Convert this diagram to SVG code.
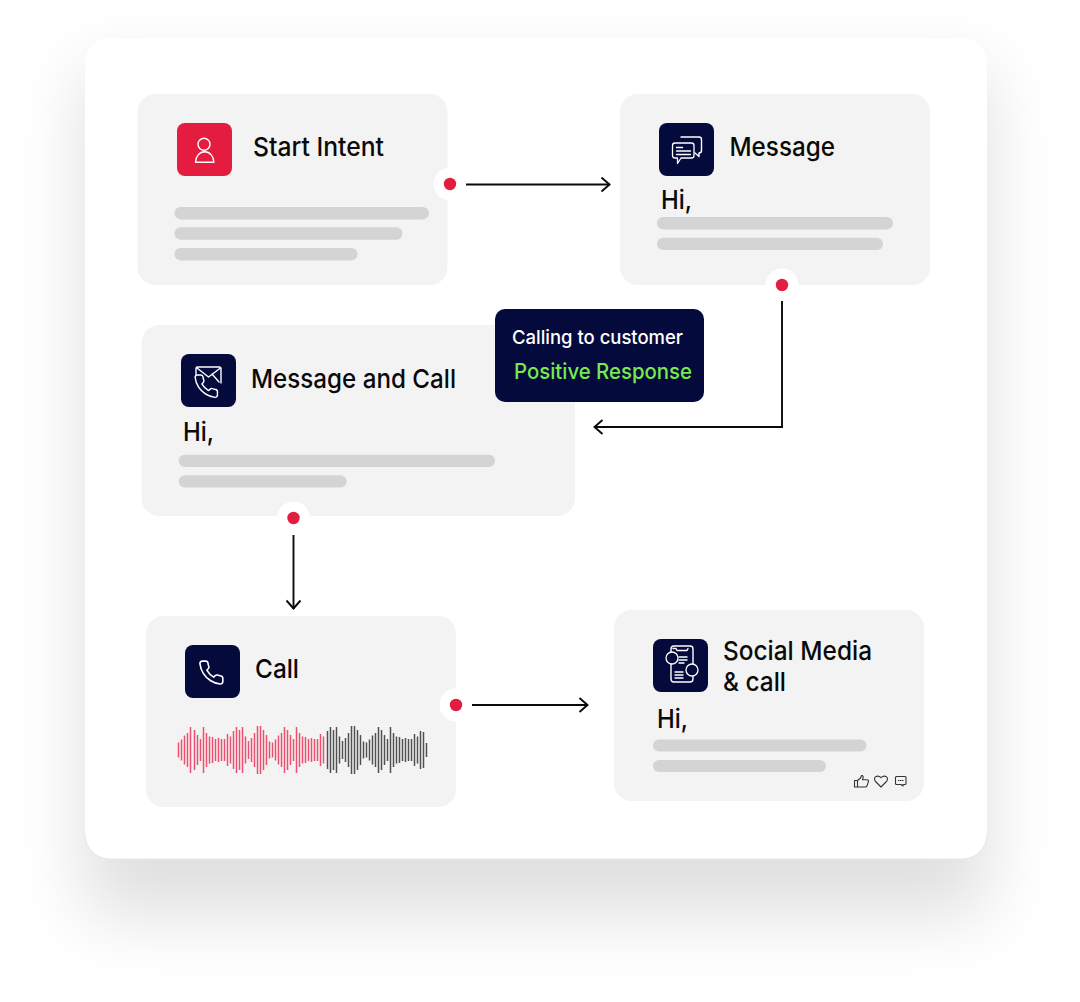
<svg xmlns="http://www.w3.org/2000/svg" width="1080" height="1002" viewBox="0 0 1080 1002">
<style>
.card{fill:#f3f3f3}
.bar{fill:#d4d4d4}
.t{font-family:"Inter","Liberation Sans",sans-serif;font-size:26px;fill:#0a0a0a;font-weight:500}
.navy{fill:#040a3c}
.ic{fill:none;stroke:#fff;stroke-width:1.4;stroke-linejoin:round;stroke-linecap:round}
.ic2{fill:#040a3c;stroke:#fff;stroke-width:1.3;stroke-linejoin:round;stroke-linecap:round}
.halo{fill:#fff}
.dot{fill:#e41c3f}
.conn{fill:none;stroke:#0a0a0a;stroke-width:1.9;marker-end:url(#arr)}
.rx{fill:none;stroke:#333;stroke-width:1.1;stroke-linejoin:round;stroke-linecap:round}
.wc{fill:none;stroke-width:1.5;stroke-linecap:butt}
</style>
<defs>
<filter id="sh" x="-25%" y="-25%" width="150%" height="150%"><feGaussianBlur stdDeviation="36"/></filter>
<marker id="arr" markerUnits="userSpaceOnUse" markerWidth="14" markerHeight="18" refX="11" refY="8" orient="auto"><path d="M2.500 1L10.500 8L2.500 15" fill="none" stroke="#0a0a0a" stroke-width="1.900"/></marker>
<path id="ph" d="M22 16.920v3a2 2 0 0 1-2.180 2 19.790 19.790 0 0 1-8.630-3.070 19.500 19.500 0 0 1-6-6 19.790 19.790 0 0 1-3.070-8.670A2 2 0 0 1 4.110 2h3a2 2 0 0 1 2 1.720 12.840 12.840 0 0 0 .7 2.810 2 2 0 0 1-.45 2.110L8.090 9.910a16 16 0 0 0 6 6l1.270-1.270a2 2 0 0 1 2.110-.45 12.840 12.840 0 0 0 2.810.7A2 2 0 0 1 22 16.920z"/>
<path id="wr" d="M178.500 742.500v15M181.500 739.500v21M184.500 735.500v29M187.500 733v34M190.500 727v46M194.500 730v40M197.500 735v30M200.500 739v22M203.500 727v46M206.500 733v34M209.500 736.500v27M212.500 737v26M215.500 739v22M218.500 738v24M221.500 739v22M224.500 739v22M227.500 734v32M230.500 736.500v27M233.500 731v38M236.500 727v46M239.500 730v40M242.500 727v46M245.500 736.500v27M248.500 741v18M251.500 738v24M254.500 733v34M257.500 726v48M260.500 726v48M263.500 730v40M266.500 735v30M269.500 741.500v17M272.500 742.500v15M275.500 739.500v21M278.500 735.500v29M281.500 733v34M284.500 727v46M287.500 730v40M290.500 735v30M293.500 739v22M296.500 727v46M299.500 733v34M302.500 736.500v27M305.500 737v26M308.500 739v22M311.500 738v24M314.500 739v22M317.500 739v22M320.500 734v32M323.500 736.500v27"/>
<path id="wg" d="M327.500 731v38M330.500 727v46M333.500 730v40M336.500 727v46M339.500 736.500v27M342.500 741v18M345.500 738v24M348.500 733v34M351.500 726v48M354.500 726v48M357.500 730v40M360.500 735v30M363.500 741.500v17M366.500 742.500v15M369.500 739.500v21M372.500 735.500v29M375.500 733v34M378.500 727v46M381.500 730v40M384.500 735v30M387.500 739v22M390.500 727v46M393.500 733v34M396.500 736.500v27M399.500 737v26M402.500 739v22M405.500 738v24M408.500 739v22M411.500 739v22M414.500 734v32M417.500 736.500v27M420.500 731v38M423.500 732v36M426.500 743v14"/>
</defs>
<rect width="1080" height="1002" fill="#fff"/>
<g id="panel">
<rect x="85" y="70" width="902" height="845" fill="#000" opacity=".125" filter="url(#sh)"/>
<rect x="85" y="38" width="902" height="821" rx="25" fill="#fff"/>
<path d="M85 834a25 25 0 0 0 25 25H962a25 25 0 0 0 25-25" fill="none" stroke="#e8e8e8" stroke-width="1"/>
</g>
<g id="node-start">
<rect class="card" x="137.500" y="94" width="310" height="191" rx="18"/>
<rect x="177" y="123" width="55" height="53" rx="8" fill="#e41c3f"/>
<circle class="ic" cx="204" cy="144.300" r="6" stroke-width="1.700"/>
<path class="ic" d="M195.500 162.300a9.200 10.500 0 0 1 18.400 0z" stroke-width="1.700"/>
<text class="t" x="253" y="155.700" textLength="131" lengthAdjust="spacingAndGlyphs">Start Intent</text>
<rect class="bar" x="174.500" y="207" width="254.500" height="12.400" rx="6.200"/>
<rect class="bar" x="174.500" y="227.300" width="228" height="12.400" rx="6.200"/>
<rect class="bar" x="174.500" y="248" width="183" height="12.400" rx="6.200"/>
<circle class="halo" cx="450" cy="184" r="16.500"/>
<circle class="dot" cx="450" cy="184" r="6.200"/>
</g>
<g id="node-message">
<rect class="card" x="620" y="94" width="310" height="191" rx="18"/>
<rect class="navy" x="659" y="123" width="55" height="53" rx="8"/>
<path class="ic" d="M681 137h18a2.500 2.500 0 0 1 2.500 2.500v11a2.500 2.500 0 0 1-2.500 2.500v3.500l-4-3.500"/>
<path class="ic2" d="M675 143h16.500a2.500 2.500 0 0 1 2.500 2.500v10a2.500 2.500 0 0 1-2.500 2.500H681l-3.500 5.500v-5.500H675a2.500 2.500 0 0 1-2.500-2.500v-10a2.500 2.500 0 0 1 2.500-2.500z"/>
<path class="ic" d="M676.500 147.500h6M676.500 151h14M676.500 154.500h14" stroke-width="1"/>
<text class="t" x="729.500" y="155.700" textLength="105.500" lengthAdjust="spacingAndGlyphs">Message</text>
<text class="t" x="661" y="209" textLength="31" lengthAdjust="spacingAndGlyphs">Hi,</text>
<rect class="bar" x="657" y="217" width="236" height="12.400" rx="6.200"/>
<rect class="bar" x="657" y="237.700" width="226" height="12.400" rx="6.200"/>
<circle class="halo" cx="782" cy="285" r="16.500"/>
<circle class="dot" cx="782" cy="285" r="6.200"/>
</g>
<g id="node-message-call">
<rect class="card" x="141.500" y="325" width="433.500" height="191" rx="18"/>
<rect class="navy" x="181" y="354" width="55" height="53" rx="8"/>
<path class="ic" d="M196 375v-6.500a1.500 1.500 0 0 1 1.500-1.500h22a1.500 1.500 0 0 1 1.500 1.500v14.500M197 368l11.500 9 12-9M212 374l7 8"/>
<use href="#ph" class="ic2" transform="translate(192.800 372.800) scale(1.120)"/>
<text class="t" x="251" y="387.500" textLength="205" lengthAdjust="spacingAndGlyphs">Message and Call</text>
<text class="t" x="183" y="440.700" textLength="31" lengthAdjust="spacingAndGlyphs">Hi,</text>
<rect class="bar" x="178.700" y="454.700" width="316.300" height="12.400" rx="6.200"/>
<rect class="bar" x="178.700" y="475.200" width="168" height="12.400" rx="6.200"/>
<circle class="halo" cx="293.500" cy="518" r="16.500"/>
<circle class="dot" cx="293.500" cy="518" r="6.200"/>
</g>
<g id="node-tooltip">
<rect class="navy" x="495" y="309" width="209" height="93" rx="10"/>
<text x="512" y="344.300" font-family="Inter,'Liberation Sans',sans-serif" font-weight="500" font-size="19" fill="#fff" textLength="171" lengthAdjust="spacingAndGlyphs">Calling to customer</text>
<text x="514" y="379" font-family="Inter,'Liberation Sans',sans-serif" font-weight="500" font-size="22" fill="#76ea4c" textLength="178" lengthAdjust="spacingAndGlyphs">Positive Response</text>
</g>
<g id="node-call">
<rect class="card" x="146" y="616" width="310" height="191" rx="18"/>
<rect class="navy" x="185" y="645" width="55" height="53" rx="8"/>
<use href="#ph" class="ic" transform="translate(197.500 658.800) scale(1.150)"/>
<text class="t" x="255" y="678.300" textLength="44" lengthAdjust="spacingAndGlyphs">Call</text>
<use href="#wr" class="wc" stroke="#ec5070"/>
<use href="#wg" class="wc" stroke="#505050"/>
<circle class="halo" cx="456" cy="705" r="16.500"/>
<circle class="dot" cx="456" cy="705" r="6.200"/>
</g>
<g id="node-social">
<rect class="card" x="614" y="610" width="310" height="191" rx="18"/>
<rect class="navy" x="653" y="639" width="55" height="53" rx="8"/>
<rect class="ic" x="671" y="646" width="22" height="36" rx="3"/>
<path class="ic" d="M673 648.500h3l1 2h10l1-2" stroke-width="1"/>
<path class="ic" d="M679 657h8M679 660h8M679 663h5M675 672h8M675 675h8M675 678h8" stroke-width="1"/>
<circle class="ic2" cx="672" cy="658" r="6"/>
<circle class="ic2" cx="692" cy="670" r="6"/>
<text class="t" x="723" y="660" textLength="149" lengthAdjust="spacingAndGlyphs">Social Media</text>
<text class="t" x="723" y="691" textLength="63" lengthAdjust="spacingAndGlyphs">&amp; call</text>
<text class="t" x="657" y="727.500" textLength="31" lengthAdjust="spacingAndGlyphs">Hi,</text>
<rect class="bar" x="653" y="739.500" width="213.500" height="12" rx="6"/>
<rect class="bar" x="653" y="760" width="173" height="12" rx="6"/>
<path class="rx" d="M854.500 780.500h3v6.500h-3zM857.500 780.500l3-2.500 1-2.500c1.500-.2 2 1.200 1.500 2.500l-.5 1.800h4.500c1.500 0 1.800 1 1.300 2l-1.300 4c-.3.800-1 1.200-2 1.200h-7.500"/>
<path class="rx" d="M881 787l-5-5c-2-2-2-4.500 0-5.500 1.800-.9 3.500-.3 5 1.200 1.500-1.500 3.200-2.100 5-1.200 2 1 2 3.500 0 5.500z"/>
<path class="rx" d="M896.500 776.500h8.500a1 1 0 0 1 1 1v6a1 1 0 0 1-1 1h-2v1.500l-2-1.500h-4.500a1 1 0 0 1-1-1v-6a1 1 0 0 1 1-1z"/>
<path d="M898 780.500h1.500M900 780.500h1.500M902 780.500h1.500" stroke="#333" stroke-width="1.200" fill="none"/>
</g>
<g id="connectors">
<path class="conn" d="M466 184.500H610"/>
<path class="conn" d="M782 301V427H594"/>
<path class="conn" d="M293.500 535V609"/>
<path class="conn" d="M472 705H588"/>
</g>
</svg>
